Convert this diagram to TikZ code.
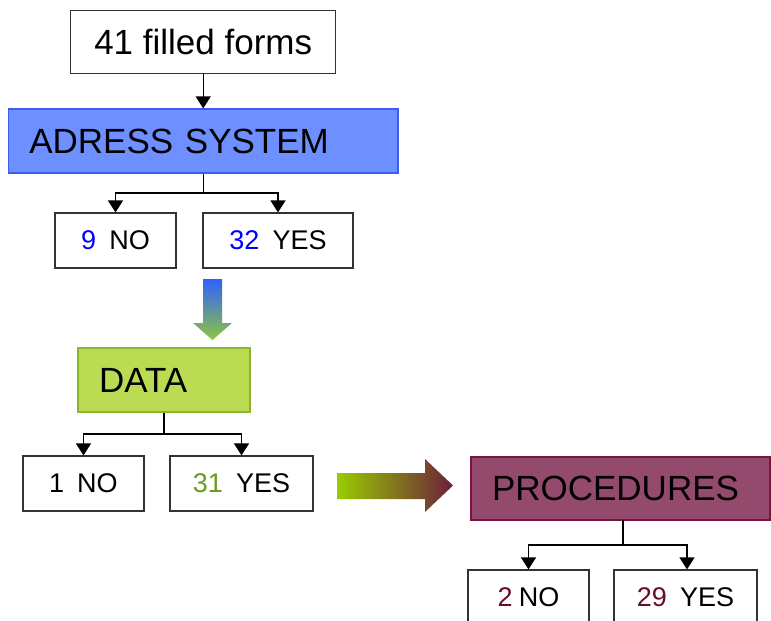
\documentclass[tikz,border=0pt]{standalone}
\usepackage{fontspec}
\setmainfont{Liberation Sans}
\usetikzlibrary{arrows.meta}
\definecolor{addrfill}{HTML}{6E8FFF}
\definecolor{addrdraw}{HTML}{3D5CF0}
\definecolor{datafill}{HTML}{BADB52}
\definecolor{datadraw}{HTML}{8CB42C}
\definecolor{procfill}{HTML}{944A6C}
\definecolor{procdraw}{HTML}{7B1540}
\definecolor{numblue}{HTML}{0000FF}
\definecolor{numgreen}{HTML}{6B9A1E}
\definecolor{nummaroon}{HTML}{6B0A2E}
\definecolor{gblue}{HTML}{3060FF}
\definecolor{ggreen}{HTML}{8CC63E}
\definecolor{hgreen}{HTML}{99CC00}
\definecolor{hmaroon}{HTML}{6B1F3A}
\definecolor{edge}{HTML}{333333}
\begin{document}
\begin{tikzpicture}[x=1pt,y=-1pt,
  basebox/.style={rectangle,draw=edge,line width=1.2pt,inner sep=0pt,anchor=center},
  bigbox/.style={basebox,font=\fontsize{35}{37}\selectfont},
  smallbox/.style={basebox,fill=white,minimum width=121pt,minimum height=55pt,font=\fontsize{27}{29}\selectfont},
  catbox/.style={basebox,font=\fontsize{35}{37}\selectfont,align=left,inner xsep=21pt},
  conn/.style={draw=black,line width=1.2pt},
  tip/.style={conn,-{Triangle[width=15pt,length=12pt]}}]
\useasboundingbox (0,0) rectangle (771,621);
\fill[white] (0,0) rectangle (771,621);

% top
\node[bigbox,fill=white,minimum width=265pt,minimum height=63pt] (forms) at (203.2,42.3) {\raisebox{-1.5pt}{41 filled forms}};
\node[catbox,fill=addrfill,draw=addrdraw,minimum height=64pt,text width=347.7pt] (addr) at (203.2,141) {\raisebox{-2pt}{ADRESS SYSTEM}};
\node[smallbox] (no1) at (115.5,240.5) {{\color{numblue}9}\hspace{13pt}NO};
\node[smallbox,minimum width=150pt] (yes1) at (278,240.5) {{\color{numblue}32}\hspace{13pt}YES};

% data
\node[catbox,fill=datafill,draw=datadraw,minimum height=64pt,text width=130pt] (data) at (164,380) {\raisebox{-2pt}{DATA}};
\node[smallbox] (no2) at (83.5,483.5) {1\hspace{13pt}NO};
\node[smallbox,minimum width=143pt] (yes2) at (241.5,483.5) {{\color{numgreen}31}\hspace{13pt}YES};

% procedures
\node[catbox,fill=procfill,draw=procdraw,minimum height=63pt,text width=257pt] (proc) at (620.5,488.5) {PROCEDURES};
\node[smallbox] (no3) at (528.5,597.5) {{\color{nummaroon}2}\hspace{6pt}NO};
\node[smallbox,minimum width=143pt] (yes3) at (685.5,597.5) {{\color{nummaroon}29}\hspace{13pt}YES};

% connectors
\draw[tip] (forms.south) -- (addr.north);
\coordinate (f1) at (203.2,193);
\draw[conn] (addr.south) -- (f1);
\draw[tip] (f1) -| (no1.north);
\draw[tip] (f1) -| (yes1.north);

\coordinate (f2) at (164,434);
\draw[conn] (data.south) -- (f2);
\draw[tip] (f2) -| (no2.north);
\draw[tip] (f2) -| (yes2.north);

\coordinate (f3) at (623,545);
\draw[conn] (623,520) -- (f3);
\draw[tip] (f3) -| (no3.north);
\draw[tip] (f3) -| ([xshift=1.5pt]yes3.north);

% gradient arrows
\shade[top color=gblue,bottom color=ggreen]
  (203,279) -- (222,279) -- (222,323) -- (232,323) -- (212.5,340) -- (193,323) -- (203,323) -- cycle;
\shade[left color=hgreen,right color=hmaroon]
  (337,473) -- (425,473) -- (425,459) -- (453,485.5) -- (425,512) -- (425,499) -- (337,499) -- cycle;
\end{tikzpicture}
\end{document}
